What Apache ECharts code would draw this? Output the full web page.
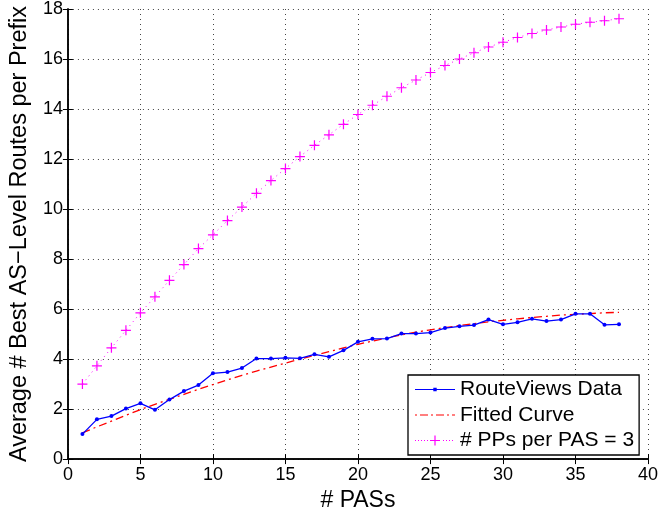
<!DOCTYPE html>
<html>
<head>
<meta charset="utf-8">
<script src="https://cdn.jsdelivr.net/npm/echarts@6/dist/echarts.min.js"></script>
<style>html,body{margin:0;padding:0;background:#fff}#c{width:662px;height:517px}</style>
</head>
<body>
<div id="c"></div>
<script>
const pasCounts = [1,2,3,4,5,6,7,8,9,10,11,12,13,14,15,16,17,18,19,20,21,22,23,24,25,26,27,28,29,30,31,32,33,34,35,36,37,38];
const routeViews = [1.0,1.59,1.72,2.02,2.23,1.97,2.38,2.72,2.96,3.43,3.48,3.64,4.02,4.02,4.05,4.03,4.19,4.09,4.35,4.69,4.81,4.82,5.02,5.02,5.06,5.24,5.31,5.36,5.58,5.39,5.47,5.61,5.52,5.58,5.81,5.81,5.37,5.39];
const fitted = [1.05,1.29,1.52,1.75,1.98,2.19,2.39,2.59,2.79,2.98,3.17,3.35,3.52,3.68,3.84,4.0,4.15,4.30,4.45,4.59,4.72,4.85,4.97,5.08,5.17,5.26,5.34,5.42,5.49,5.55,5.61,5.66,5.71,5.76,5.79,5.82,5.85,5.87];
const pp3 = [3.0,3.73,4.45,5.15,5.85,6.49,7.15,7.78,8.42,8.97,9.54,10.08,10.63,11.14,11.62,12.10,12.55,12.97,13.39,13.78,14.15,14.51,14.85,15.16,15.46,15.74,16.0,16.25,16.48,16.67,16.86,17.02,17.16,17.28,17.39,17.47,17.53,17.61];
const seriesNames = ['RouteViews Data','Fitted Curve','# PPs per PAS = 3'];
const xTicks = {min:0,max:40,interval:5};
const yTicks = {min:0,max:18,interval:2};

const pair = a => pasCounts.map((x,i)=>[x,a[i]]);
const font = 'Liberation Sans';
const plus = 'path://M4.4,0H5.6V4.4H10V5.6H5.6V10H4.4V5.6H0V4.4H4.4Z';
// legend icons drawn in a 40x10 box (corner moves keep the box)
const box = 'M0,0M40,10';
const iconBlue = 'path://' + box + 'M0,4.4H40V5.6H0Z M18.3,3.3H21.7V6.7H18.3Z';
const iconRed = 'path://' + box + 'M0,4.4H2V5.6H0Z M5,4.4H13V5.6H5Z M16,4.4H18V5.6H16Z M21,4.4H29V5.6H21Z M32,4.4H34V5.6H32Z M37,4.4H40V5.6H37Z';
let dots = '';
for (const d of [0,3,6,9,12,28,31,34,37]) dots += 'M'+d+',4.5H'+(d+1)+'V5.5H'+d+'Z ';
const iconMag = 'path://' + box + dots + 'M19.4,0H20.6V4.4H25V5.6H20.6V10H19.4V5.6H15V4.4H19.4Z';

const grid = {type:[1,4], color:'#444', width:1};
const chart = echarts.init(document.getElementById('c'));
chart.setOption({
  animation:false,
  backgroundColor:'#fff',
  textStyle:{fontFamily:font},
  grid:{left:67,right:14,top:6,bottom:54,containLabel:false},
  xAxis:[{
    type:'value',min:xTicks.min,max:xTicks.max,interval:xTicks.interval,
    name:'# PASs',nameLocation:'middle',nameGap:26,
    nameTextStyle:{fontSize:23,color:'#000',fontFamily:font},
    axisLine:{lineStyle:{color:'#000',width:1.5}},
    axisTick:{inside:true,length:5,lineStyle:{color:'#000'}},
    axisLabel:{fontSize:18,color:'#000',margin:7,fontFamily:font},
    splitLine:{show:true,lineStyle:grid}
  },{
    type:'value',position:'top',min:xTicks.min,max:xTicks.max,interval:xTicks.interval,
    axisLine:{show:true,lineStyle:{color:'#000',width:1.5}},
    axisTick:{show:true,inside:true,length:5,lineStyle:{color:'#000'}},
    axisLabel:{show:false},splitLine:{show:false}
  }],
  yAxis:[{
    type:'value',min:yTicks.min,max:yTicks.max,interval:yTicks.interval,
    name:'Average # Best AS\u2212Level Routes per Prefix',nameLocation:'middle',nameGap:28,
    nameTextStyle:{fontSize:23.5,color:'#000',fontFamily:font},
    axisLine:{show:true,lineStyle:{color:'#000',width:1.5}},
    axisTick:{show:true,inside:true,length:5,lineStyle:{color:'#000'}},
    axisLabel:{fontSize:18,color:'#000',margin:5,fontFamily:font},
    splitLine:{show:true,lineStyle:grid}
  },{
    type:'value',position:'right',min:yTicks.min,max:yTicks.max,interval:yTicks.interval,
    axisLine:{show:true,lineStyle:{color:'#000',width:1.5}},
    axisTick:{show:true,inside:true,length:5,lineStyle:{color:'#000'}},
    axisLabel:{show:false},splitLine:{show:false}
  }],
  legend:{
    orient:'vertical',left:408,top:375,
    itemWidth:40,itemHeight:10,itemGap:4.5,
    padding:[4,5,4,7],
    borderColor:'#000',borderWidth:1.3,backgroundColor:'#fff',
    textStyle:{fontSize:21,color:'#000',fontFamily:font},
    data:[
      {name:seriesNames[0],icon:iconBlue},
      {name:seriesNames[1],icon:iconRed},
      {name:seriesNames[2],icon:iconMag}
    ]
  },
  series:[{
    name:seriesNames[0],type:'line',data:pair(routeViews),
    symbol:'circle',symbolSize:4,
    itemStyle:{color:'#0000ff'},
    lineStyle:{color:'#0000ff',width:1.3},
    z:4
  },{
    name:seriesNames[1],type:'line',data:pair(fitted),
    symbol:'none',showSymbol:false,
    itemStyle:{color:'#ff0000'},
    lineStyle:{color:'#ff0000',width:1.3,type:[8,4,2,4]},
    z:3
  },{
    name:seriesNames[2],type:'line',data:pair(pp3),
    symbol:plus,symbolSize:10,
    itemStyle:{color:'#ff00ff'},
    lineStyle:{color:'#ff00ff',width:1,type:[1,4]},
    z:2
  }]
});
</script>
</body>
</html>
